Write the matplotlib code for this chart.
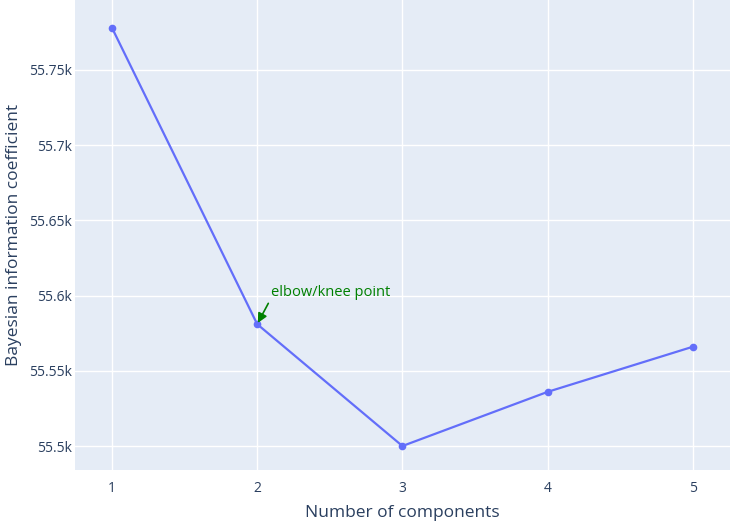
import matplotlib

matplotlib.use("Agg")
import matplotlib.pyplot as plt
from matplotlib.ticker import FuncFormatter

# data
n_components = [1, 2, 3, 4, 5]
bic = [55778, 55581, 55500, 55536, 55566]
y_ticks = [55500, 55550, 55600, 55650, 55700, 55750]
elbow_idx = 1

plt.rcParams["font.family"] = ["Open Sans", "DejaVu Sans"]
text_color = "#2a3f5f"

fig = plt.figure(figsize=(7.35, 5.27), dpi=100)
ax = fig.add_axes([0.102, 0.108, 0.891, 0.892])
ax.set_facecolor("#E5ECF6")

ax.plot(n_components, bic, "-o", color="#636EFA", lw=1.6, ms=4.5, zorder=3,
        clip_on=False)

ax.set_xlim(0.745, 5.255)
ax.set_ylim(55484, 55796.5)
ax.set_xticks(n_components)
ax.set_yticks(y_ticks)
ax.yaxis.set_major_formatter(FuncFormatter(lambda v, _: f"{v / 1000:g}k"))
ax.grid(color="white", lw=1)
ax.set_axisbelow(True)
for s in ax.spines.values():
    s.set_visible(False)
ax.tick_params(axis="y", length=0, labelsize=10, colors=text_color, pad=2)
ax.tick_params(axis="x", length=0, labelsize=10, colors=text_color, pad=8)

ax.set_xlabel("Number of components", fontsize=12.5, color=text_color, labelpad=6)
ax.set_ylabel("Bayesian information coefficient", fontsize=12.5,
              color=text_color)
ax.yaxis.set_label_coords(-0.081, 0.5)

pt = (n_components[elbow_idx], bic[elbow_idx])
ax.annotate(
    "",
    xy=pt,
    xytext=(8, 15),
    textcoords="offset points",
    arrowprops=dict(arrowstyle="-|>", color="green", lw=1.2,
                    shrinkA=0, shrinkB=1, mutation_scale=14),
)
ax.annotate(
    "elbow/knee point",
    xy=pt,
    xytext=(10, 23),
    textcoords="offset points",
    color="green",
    fontsize=10.5,
    ha="left",
    va="center",
)

fig.savefig("out.png", dpi=100)
